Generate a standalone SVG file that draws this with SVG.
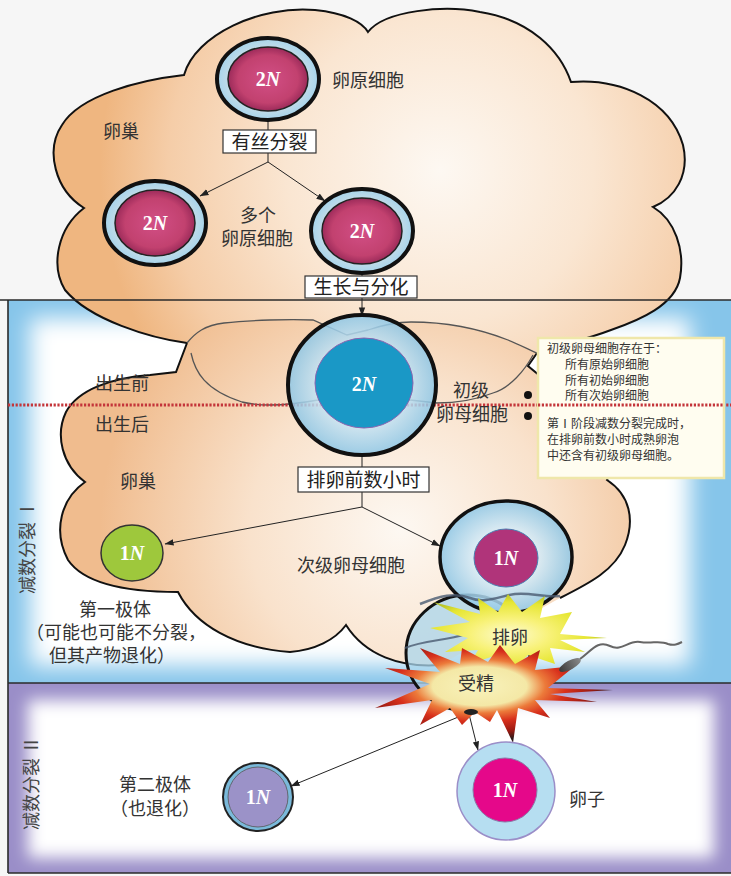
<svg xmlns="http://www.w3.org/2000/svg" width="731" height="876" viewBox="0 0 731 876">
  <defs>
    <style>
      .lbl{font-family:"Noto Sans CJK SC","Noto Sans",sans-serif;font-size:18px;fill:#333}
      .box{fill:#fff;stroke:#333;stroke-width:1.2}
      .boxt{font-family:"Noto Sans CJK SC","Noto Sans",sans-serif;font-size:19px;fill:#222;text-anchor:middle}
      .note{font-family:"Noto Sans CJK SC","Noto Sans",sans-serif;font-size:12px;fill:#333}
      .ploid{font-family:"Liberation Serif",serif;font-weight:bold;font-size:20px;fill:#fff;text-anchor:middle}
      .conn{stroke:#222;stroke-width:1;fill:none}
      .vt{font-family:"Noto Sans CJK SC","Noto Sans",sans-serif;font-size:18px;fill:#444}
      .edge{fill:none;stroke:#555;stroke-width:1.3}
    </style>
    <radialGradient id="gTopCloud" gradientUnits="userSpaceOnUse" cx="440" cy="170" r="340">
      <stop offset="0" stop-color="#fdf8f2"/>
      <stop offset="0.45" stop-color="#fae6d2"/>
      <stop offset="0.8" stop-color="#f5cda8"/>
      <stop offset="1" stop-color="#efb680"/>
    </radialGradient>
    <radialGradient id="gMidCloud" gradientUnits="userSpaceOnUse" cx="400" cy="530" r="300">
      <stop offset="0" stop-color="#fdf8f2"/>
      <stop offset="0.5" stop-color="#f9e2cc"/>
      <stop offset="1" stop-color="#f0bc8e"/>
    </radialGradient>
    <radialGradient id="gPink">
      <stop offset="0" stop-color="#d24f86"/>
      <stop offset="0.75" stop-color="#c2416f"/>
      <stop offset="1" stop-color="#9c2b5a"/>
    </radialGradient>
    <radialGradient id="gRing">
      <stop offset="0.7" stop-color="#c9dde6"/>
      <stop offset="1" stop-color="#a6d4ec"/>
    </radialGradient>
    <radialGradient id="gBlueCell">
      <stop offset="0.45" stop-color="#dceef8"/>
      <stop offset="1" stop-color="#8cc6e6"/>
    </radialGradient>
    <radialGradient id="gYellow" cx="0.45" cy="0.55" r="0.55">
      <stop offset="0" stop-color="#fdfbd2"/>
      <stop offset="0.4" stop-color="#f8f27a"/>
      <stop offset="0.8" stop-color="#e6e632"/>
      <stop offset="1" stop-color="#b8c42a"/>
    </radialGradient>
    <radialGradient id="gRed" cx="0.44" cy="0.42" r="0.55">
      <stop offset="0" stop-color="#f8f3bc"/>
      <stop offset="0.36" stop-color="#f4e8a6"/>
      <stop offset="0.5" stop-color="#ec7a3a"/>
      <stop offset="0.66" stop-color="#d8301c"/>
      <stop offset="0.86" stop-color="#9a1a12"/>
      <stop offset="1" stop-color="#2e1a1a"/>
    </radialGradient>
    <linearGradient id="gSperm" x1="0" y1="0" x2="1" y2="0">
      <stop offset="0" stop-color="#3a3a3a"/>
      <stop offset="1" stop-color="#8a8a8a"/>
    </linearGradient>
    <filter id="glow" x="-20%" y="-20%" width="140%" height="140%">
      <feGaussianBlur stdDeviation="11"/>
    </filter>
    <filter id="glowS" x="-20%" y="-20%" width="140%" height="140%">
      <feGaussianBlur stdDeviation="8"/>
    </filter>
    <clipPath id="clipBlue"><rect x="8" y="300" width="723" height="383"/></clipPath>
    <clipPath id="clipPurple"><rect x="8" y="683" width="723" height="190"/></clipPath>
    <marker id="arr" viewBox="0 0 10 10" refX="9.5" refY="5" markerWidth="9" markerHeight="9" orient="auto" markerUnits="userSpaceOnUse">
      <path d="M0,1.5 L10,5 L0,8.5 Z" fill="#222"/>
    </marker>
  </defs>

  <!-- page -->
  <rect x="0" y="0" width="731" height="876" fill="#f6f6f6"/>

  <!-- stage panels -->
  <g id="panel-meiosis1">
    <rect x="8" y="300" width="723" height="383" fill="#86c5ea"/>
    <rect x="30" y="318" width="660" height="348" fill="#fff" filter="url(#glow)" clip-path="url(#clipBlue)"/>
  </g>
  <g id="panel-meiosis2">
    <rect x="8" y="683" width="723" height="190" fill="#9a8ec8"/>
    <rect x="28" y="700" width="686" height="158" fill="#fff" filter="url(#glowS)" clip-path="url(#clipPurple)"/>
  </g>

  <!-- ovary after birth -->
  <g id="ovary-lower">
    <path d="M187,343 L176,372 L150,375 C110,378 78,390 66,412 C55,435 62,465 85,482 C62,498 52,530 68,560 C85,585 130,592 178,592 C195,625 235,648 290,652 C315,650 335,640 346,625 C365,655 400,668 440,665 L560,598 C590,583 615,570 625,545 C635,520 630,495 607,480 L612,470 L612,380 L545,380 L528,366 L537,353 L515,315 L215,310 Z" fill="url(#gMidCloud)"/>
    <path d="M187,343 L176,372 L150,375 C110,378 78,390 66,412 C55,435 62,465 85,482 C62,498 52,530 68,560 C85,585 130,592 178,592 C195,625 235,648 290,652 C315,650 335,640 346,625 C365,655 400,668 440,665 M560,598 C590,583 615,570 625,545 C635,520 630,495 607,480 L612,470 M545,380 L528,366 L537,353" fill="none" stroke="#111" stroke-width="2"/>
  </g>

  <!-- ovary before birth -->
  <g id="ovary-upper">
    <path d="M187,343 C150,338 90,320 65,290 C50,265 58,228 84,208 C55,190 45,150 62,125 C80,95 140,80 184,75 C195,35 260,5 315,10 C345,13 362,22 368,32 C385,10 445,5 480,12 C530,20 560,50 571,82 C620,78 670,100 683,145 C690,175 675,198 653,207 C675,220 685,250 680,278 C675,305 640,320 611,330 C585,340 560,345 537,353 C528,349 518,344 508,340 C475,327 440,322 411,322 C395,322 380,326 368,330 L347,335 L313,320 C290,319 250,320 224,323 C205,325 195,333 187,343 Z" fill="url(#gTopCloud)"/>
    <path d="M187,343 C150,338 90,320 65,290 C50,265 58,228 84,208 C55,190 45,150 62,125 C80,95 140,80 184,75 C195,35 260,5 315,10 C345,13 362,22 368,32 C385,10 445,5 480,12 C530,20 560,50 571,82 C620,78 670,100 683,145 C690,175 675,198 653,207 C675,220 685,250 680,278 C675,305 640,320 611,330 C585,340 560,345 537,353" fill="none" stroke="#111" stroke-width="2"/>
    <path class="edge" d="M537,353 C528,349 518,344 508,340 C475,327 440,322 411,322 C395,322 380,326 368,330 L347,335 L313,320 C290,319 250,320 224,323 C205,325 195,333 187,343"/>
    <path class="edge" d="M191,353 C195,372 205,390 242,402 C262,407 285,406 318,400"/>
    <path class="edge" d="M533,355 C525,370 510,388 493,393 C475,400 455,403 437,403 L410,400"/>
  </g>

  <!-- panel borders -->
  <g id="panel-borders" fill="none" stroke="#2a2a2a" stroke-width="1.6">
    <line x1="0" y1="300" x2="731" y2="300"/>
    <line x1="8" y1="300" x2="8" y2="873"/>
    <line x1="8" y1="683" x2="731" y2="683"/>
    <line x1="8" y1="873" x2="731" y2="873"/>
  </g>

  <!-- birth boundary -->
  <line x1="8" y1="405" x2="731" y2="405" stroke="#c4353a" stroke-width="3" stroke-dasharray="2.2 1.6"/>

  <!-- note box -->
  <g id="note">
    <rect x="538" y="338" width="186" height="140" fill="#fffdf0" stroke="#efe7aa" stroke-width="2.5"/>
    <line x1="538" y1="405" x2="724" y2="405" stroke="#c4353a" stroke-width="3" stroke-dasharray="2.2 1.6"/>
    <text class="note" x="547" y="353" font-size="12.5">初级卵母细胞存在于：</text>
    <text class="note" x="565" y="369">所有原始卵细胞</text>
    <text class="note" x="565" y="385">所有初始卵细胞</text>
    <text class="note" x="565" y="400">所有次始卵细胞</text>
    <text class="note" x="547" y="428">第Ⅰ阶段减数分裂完成时，</text>
    <text class="note" x="547" y="444">在排卵前数小时成熟卵泡</text>
    <text class="note" x="547" y="460">中还含有初级卵母细胞。</text>
    <circle cx="528" cy="395" r="4" fill="#111"/>
    <circle cx="528" cy="416" r="4" fill="#111"/>
  </g>

  <!-- connectors -->
  <g id="connectors">
    <line class="conn" x1="268" y1="120" x2="268" y2="130"/>
    <line class="conn" x1="268" y1="153" x2="268" y2="162"/>
    <path class="conn" d="M268,162 L200,196" marker-end="url(#arr)"/>
    <path class="conn" d="M268,162 L325,201" marker-end="url(#arr)"/>
    <line class="conn" x1="362" y1="273" x2="362" y2="276"/>
    <path class="conn" d="M362,298 L362,316" marker-end="url(#arr)"/>
    <line class="conn" x1="362" y1="455" x2="362" y2="467"/>
    <line class="conn" x1="362" y1="492" x2="362" y2="507"/>
    <path class="conn" d="M362,507 L165,544" marker-end="url(#arr)"/>
    <path class="conn" d="M362,507 L440,546" marker-end="url(#arr)"/>
    <path class="conn" d="M468,713 L291,786" marker-end="url(#arr)"/>
    <path class="conn" d="M469,714 L478,750" marker-end="url(#arr)"/>
  </g>

  <!-- oogonium -->
  <g id="oogonium">
    <ellipse cx="268" cy="79" rx="51" ry="41" fill="url(#gRing)" stroke="#111" stroke-width="4"/>
    <ellipse cx="268" cy="79" rx="40" ry="32" fill="url(#gPink)" stroke="#222" stroke-width="1.5"/>
    <text class="ploid" x="268" y="86">2<tspan font-style="italic">N</tspan></text>
    <text class="lbl" x="332" y="87" font-size="19">卵原细胞</text>
    <text class="lbl" x="103" y="138" font-size="19">卵巢</text>
  </g>

  <g id="mitosis">
    <rect class="box" x="223" y="130" width="93" height="23"/>
    <text class="boxt" x="269.5" y="148.5">有丝分裂</text>
  </g>

  <g id="oogonium-left">
    <ellipse cx="155" cy="223" rx="51" ry="42" fill="url(#gRing)" stroke="#111" stroke-width="4"/>
    <ellipse cx="155" cy="223" rx="40" ry="33" fill="url(#gPink)" stroke="#222" stroke-width="1.5"/>
    <text class="ploid" x="155" y="230">2<tspan font-style="italic">N</tspan></text>
  </g>

  <g id="oogonia-label">
    <text class="lbl" x="240" y="222">多个</text>
    <text class="lbl" x="221" y="245">卵原细胞</text>
  </g>

  <g id="oogonium-right">
    <ellipse cx="362" cy="231" rx="51" ry="42" fill="url(#gRing)" stroke="#111" stroke-width="4"/>
    <ellipse cx="362" cy="231" rx="40" ry="33" fill="url(#gPink)" stroke="#222" stroke-width="1.5"/>
    <text class="ploid" x="362" y="238">2<tspan font-style="italic">N</tspan></text>
  </g>

  <g id="growth">
    <rect class="box" x="305" y="276" width="112" height="22"/>
    <text class="boxt" x="361" y="294">生长与分化</text>
  </g>

  <!-- primary oocyte -->
  <g id="primary-oocyte">
    <ellipse cx="362" cy="385" rx="74" ry="70" fill="url(#gBlueCell)" fill-opacity="0.85" stroke="#111" stroke-width="4"/>
    <ellipse cx="364" cy="383" rx="49" ry="45" fill="#1a98c6" stroke="#8a64b0" stroke-width="1"/>
    <text class="ploid" x="364" y="391" font-size="24">2<tspan font-style="italic">N</tspan></text>
    <text class="lbl" x="453" y="397" font-size="19">初级</text>
    <text class="lbl" x="436" y="421" font-size="19">卵母细胞</text>
  </g>

  <g id="timeline-labels">
    <text class="lbl" x="95" y="390">出生前</text>
    <text class="lbl" x="95" y="431">出生后</text>
    <text class="lbl" x="120" y="488">卵巢</text>
  </g>

  <g id="pre-ovulation">
    <rect class="box" x="298" y="467" width="131" height="25"/>
    <text class="boxt" x="363.5" y="486.5">排卵前数小时</text>
  </g>

  <!-- first polar body -->
  <g id="polar-body-1">
    <ellipse cx="132" cy="553" rx="31" ry="28" fill="#9ec83c" stroke="#333" stroke-width="1.5"/>
    <text class="ploid" x="132" y="560">1<tspan font-style="italic">N</tspan></text>
    <text class="lbl" x="115" y="616" text-anchor="middle">第一极体</text>
    <text class="lbl" x="116" y="639" text-anchor="middle">（可能也可能不分裂，</text>
    <text class="lbl" x="112" y="662" text-anchor="middle">但其产物退化）</text>
  </g>

  <!-- ovulated oocyte -->
  <g id="ovulation-cell">
    <ellipse cx="468" cy="653" rx="62" ry="58" fill="#a9d6ec" fill-opacity="0.75" stroke="#111" stroke-width="3"/>
  </g>

  <!-- secondary oocyte -->
  <g id="secondary-oocyte">
    <ellipse cx="506" cy="557" rx="66" ry="56" fill="url(#gBlueCell)" fill-opacity="0.85" stroke="#111" stroke-width="3.5"/>
    <ellipse cx="506" cy="558" rx="32" ry="29" fill="#b0347a" stroke="#4a7db0" stroke-width="1"/>
    <text class="ploid" x="506" y="565">1<tspan font-style="italic">N</tspan></text>
    <text class="lbl" x="297" y="572" font-size="19">次级卵母细胞</text>
  </g>

  <!-- ruptured follicle wall -->
  <path d="M420,604 C440,596 455,592 470,598 C485,604 500,596 515,594 C530,592 545,598 560,596" fill="none" stroke="#4a5a70" stroke-width="2.5" opacity="0.8"/>
  <path d="M405,648 C425,640 445,641 466,634" fill="none" stroke="#4a5a70" stroke-width="2" opacity="0.8"/>

  <!-- ovulation -->
  <g id="ovulation">
    <path d="M607,638 L560,634 L572,612 L540,618 L545,596 L522,612 L508,594 L498,612 L478,598 L480,614 L433,602 L470,622 L430,628 L468,638 L445,652 L478,650 L470,664 L500,654 L515,668 L528,655 L555,664 L550,648 L585,652 L560,640 Z" fill="url(#gYellow)"/>
    <text class="lbl" x="492" y="644" font-size="19">排卵</text>
  </g>

  <!-- fertilisation -->
  <g id="fertilisation">
    <path d="M613,690 L548,688 L575,666 L535,670 L540,650 L515,664 L500,645 L488,662 L462,648 L460,664 L420,648 L440,672 L385,668 L430,684 L375,708 L432,700 L420,725 L450,708 L462,725 L475,712 L490,722 L497,710 L513,743 L518,708 L550,718 L535,700 L597,702 L550,694 Z" fill="url(#gRed)"/>
    <ellipse cx="471" cy="712" rx="7" ry="3" fill="#222"/>
    <text class="lbl" x="458" y="690" font-size="19">受精</text>
  </g>

  <!-- sperm -->
  <g id="sperm">
    <path d="M580,659 C592,650 598,640 610,646 C622,652 628,640 640,642 C652,644 660,640 668,644 C674,646 678,644 682,642" fill="none" stroke="#666" stroke-width="2"/>
    <ellipse cx="570" cy="665" rx="12" ry="4.5" fill="url(#gSperm)" transform="rotate(-28 570 665)"/>
  </g>

  <!-- second polar body -->
  <g id="polar-body-2">
    <ellipse cx="258" cy="797" rx="35" ry="34" fill="#7ab9da" stroke="#222" stroke-width="2"/>
    <ellipse cx="258" cy="797" rx="30" ry="30" fill="#9b92c8" stroke="#555" stroke-width="0.8"/>
    <text class="ploid" x="258" y="804">1<tspan font-style="italic">N</tspan></text>
    <text class="lbl" x="155" y="791" font-size="19" text-anchor="middle">第二极体</text>
    <text class="lbl" x="155" y="815" font-size="17" text-anchor="middle">（也退化）</text>
  </g>

  <!-- ovum -->
  <g id="ovum">
    <ellipse cx="506" cy="791" rx="49" ry="49" fill="#b6def1" stroke="#9b8ec8" stroke-width="1.5"/>
    <ellipse cx="505" cy="790" rx="32" ry="32" fill="#e5088a" stroke="#8a7aa8" stroke-width="1"/>
    <text class="ploid" x="505" y="797">1<tspan font-style="italic">N</tspan></text>
    <text class="lbl" x="569" y="806" font-size="19">卵子</text>
  </g>

  <!-- stage titles -->
  <text class="vt" transform="translate(34,594) rotate(-90)">减数分裂 Ⅰ</text>
  <text class="vt" transform="translate(38,830) rotate(-90)">减数分裂 Ⅱ</text>
</svg>
